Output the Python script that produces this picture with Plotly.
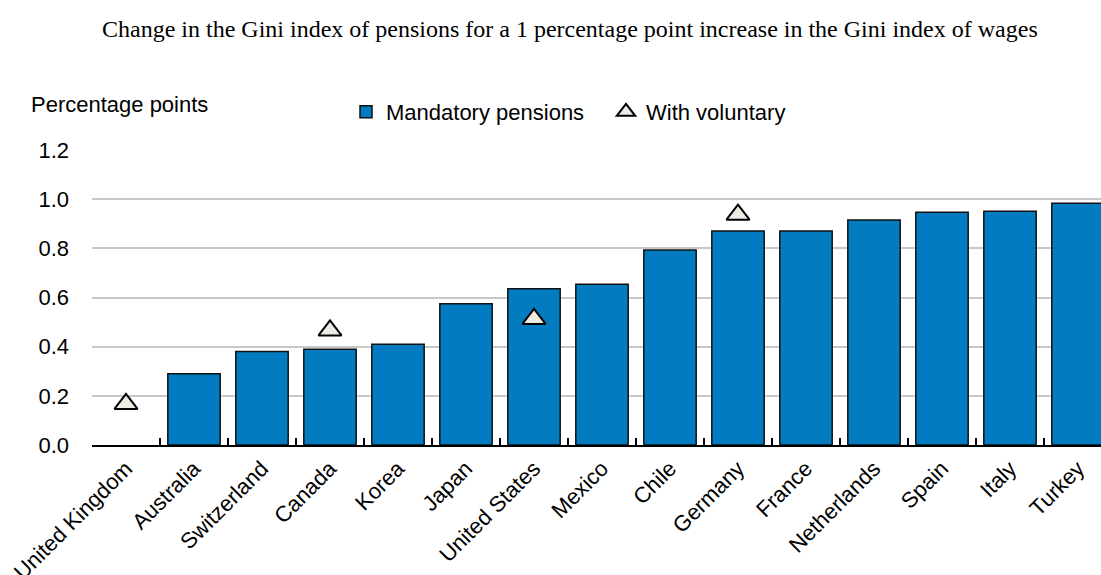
import plotly.graph_objects as go

countries = ["United Kingdom", "Australia", "Switzerland", "Canada", "Korea", "Japan",
             "United States", "Mexico", "Chile", "Germany", "France", "Netherlands",
             "Spain", "Italy", "Turkey"]
mandatory = [None, 0.29, 0.38, 0.39, 0.41, 0.575, 0.636, 0.654, 0.793, 0.871,
             0.871, 0.915, 0.947, 0.951, 0.983]
voluntary = [0.167, None, None, 0.466, None, None, 0.513, None, None, 0.937,
             None, None, None, None, None]

W, H = 1101, 575
L, T, B = 92, 150, 130
PH = H - T - B
PW = W - L

fig = go.Figure()
fig.add_trace(go.Bar(
    x=countries, y=mandatory, name="Mandatory pensions",
    marker=dict(color="#037BC1", line=dict(color="#111111", width=1.5)),
    width=0.77,
))
fig.add_trace(go.Scatter(
    x=countries, y=voluntary, name="With voluntary", mode="markers",
    marker=dict(symbol="triangle-up", size=20, color="#ECECE4",
                line=dict(color="#000000", width=2)),
))

fig.update_layout(
    width=W, height=H,
    margin=dict(l=L, r=0, t=T, b=B, autoexpand=False),
    paper_bgcolor="white", plot_bgcolor="white",
    font=dict(family="Liberation Sans, Arial, sans-serif", size=22, color="#000000"),
    showlegend=True,
    legend=dict(orientation="h", x=(346 - L) / PW, xanchor="left",
                y=1 + (T - 112) / PH, yanchor="middle",
                font=dict(size=22), itemclick=False, bgcolor="rgba(0,0,0,0)",
                entrywidth=215, entrywidthmode="pixels"),
    bargap=0.23,
)
fig.add_annotation(
    text="Change in the Gini index of pensions for a 1 percentage point increase in the Gini index of wages",
    xref="paper", yref="paper", x=(569.5 - L) / PW, y=1 + (T - 29) / PH,
    showarrow=False, xanchor="center", yanchor="middle",
    font=dict(family="Liberation Serif, Times New Roman, serif", size=24, color="#000000"),
)
fig.add_annotation(
    text="Percentage points", xref="paper", yref="paper",
    x=-(L - 29) / PW, y=1 + (T - 105) / PH,
    showarrow=False, xanchor="left", yanchor="middle",
    font=dict(size=22),
)
fig.update_xaxes(
    type="category", range=[-0.5, -0.5 + PW / 68.0], automargin=False,
    showline=True, linecolor="#000000", linewidth=2,
    ticks="inside", tickson="boundaries", ticklen=7, tickwidth=2, tickcolor="#000000",
    tickangle=-45, tickfont=dict(size=22), showgrid=False,
)
fig.update_yaxes(
    range=[0, 1.2], dtick=0.2, tickformat=".1f", automargin=False,
    showgrid=True, gridcolor="#C8C8C8", gridwidth=1.5,
    zeroline=False, showline=False, ticks="", ticklabelstandoff=22,
    tickfont=dict(size=22),
)
fig.write_html("out.html", config={"displayModeBar": False},
               post_script="document.body.style.margin='0';")
